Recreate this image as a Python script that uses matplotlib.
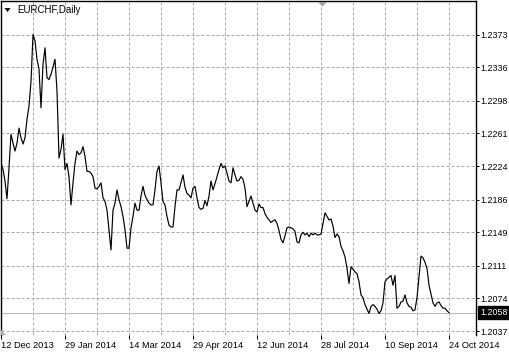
import matplotlib
matplotlib.use("Agg")
import matplotlib.pyplot as plt
from matplotlib.patches import Polygon

# --- chart data (daily closes, one per bar) ---
symbol_title = "EURCHF,Daily"
closes = [
    1.2227, 1.2220, 1.2207, 1.2187, 1.2222, 1.2260, 1.2250, 1.2241, 1.2250, 1.2267,
    1.2256, 1.2249, 1.2256, 1.2277, 1.2292, 1.2320, 1.2373, 1.2366, 1.2345, 1.2334,
    1.2290, 1.2339, 1.2358, 1.2324, 1.2322, 1.2328, 1.2336, 1.2345, 1.2309, 1.2233,
    1.2243, 1.2260, 1.2220, 1.2227, 1.2212, 1.2180, 1.2205, 1.2227, 1.2241, 1.2237,
    1.2239, 1.2246, 1.2235, 1.2218, 1.2218, 1.2216, 1.2212, 1.2199, 1.2198, 1.2201,
    1.2205, 1.2188, 1.2184, 1.2174, 1.2152, 1.2129, 1.2174, 1.2182, 1.2197, 1.2186,
    1.2178, 1.2167, 1.2152, 1.2131, 1.2131, 1.2154, 1.2167, 1.2182, 1.2174, 1.2174,
    1.2190, 1.2201, 1.2191, 1.2186, 1.2182, 1.2180, 1.2180, 1.2197, 1.2218, 1.2224,
    1.2205, 1.2184, 1.2180, 1.2167, 1.2157, 1.2155, 1.2155, 1.2178, 1.2197, 1.2197,
    1.2205, 1.2214, 1.2200, 1.2193, 1.2191, 1.2188, 1.2199, 1.2201, 1.2188, 1.2177,
    1.2175, 1.2176, 1.2185, 1.2179, 1.2190, 1.2207, 1.2197, 1.2204, 1.2212, 1.2220,
    1.2227, 1.2222, 1.2224, 1.2216, 1.2207, 1.2205, 1.2222, 1.2214, 1.2207, 1.2208,
    1.2212, 1.2209, 1.2199, 1.2178, 1.2184, 1.2190, 1.2182, 1.2174, 1.2172, 1.2181,
    1.2177, 1.2177, 1.2170, 1.2166, 1.2163, 1.2160, 1.2162, 1.2163, 1.2159, 1.2151,
    1.2141, 1.2137, 1.2145, 1.2154, 1.2155, 1.2154, 1.2153, 1.2150, 1.2138, 1.2137,
    1.2146, 1.2149, 1.2146, 1.2148, 1.2144, 1.2148, 1.2146, 1.2148, 1.2146, 1.2146,
    1.2147, 1.2159, 1.2171, 1.2167, 1.2163, 1.2164, 1.2156, 1.2143, 1.2147, 1.2144,
    1.2133, 1.2128, 1.2121, 1.2108, 1.2091, 1.2110, 1.2107, 1.2104, 1.2102, 1.2093,
    1.2078, 1.2075, 1.2067, 1.2062, 1.2057, 1.2065, 1.2067, 1.2065, 1.2062, 1.2057,
    1.2060, 1.2069, 1.2093, 1.2096, 1.2098, 1.2100, 1.2089, 1.2100, 1.2063, 1.2065,
    1.2070, 1.2071, 1.2078, 1.2069, 1.2065, 1.2064, 1.2060, 1.2061, 1.2075, 1.2099,
    1.2122, 1.2120, 1.2115, 1.2108, 1.2089, 1.2079, 1.2069, 1.2065, 1.2069, 1.2070,
    1.2066, 1.2063, 1.2063, 1.2060, 1.2058,
]
date_labels = ["12 Dec 2013", "29 Jan 2014", "14 Mar 2014", "29 Apr 2014",
               "12 Jun 2014", "28 Jul 2014", "10 Sep 2014", "24 Oct 2014"]
date_bars = [0, 32, 64, 96, 128, 160, 192, 224]
price_ticks = [1.2037, 1.2074, 1.2111, 1.2149, 1.2186,
               1.2224, 1.2261, 1.2298, 1.2336, 1.2373]
last_price = 1.2058

plt.rcParams['font.family'] = ['Liberation Sans', 'DejaVu Sans']

W, H = 510, 352
fig = plt.figure(figsize=(W / 100, H / 100), dpi=100)
fig.patch.set_facecolor('white')
# chart area in pixels: x 1..476.5, y 1..335 (from top)
ax = fig.add_axes([1 / W, (H - 335) / H, 475.5 / W, 334 / H])

ax.set_xlim(0, 237.75)
ax.set_ylim(1.20326, 1.24110)

# dashed grid like the terminal
grid_kw = dict(color='#a8a8a8', lw=0.72, dashes=(3, 2), zorder=1)
for b in range(16, 238, 16):
    ax.axvline(b, **grid_kw)
for p in price_ticks:
    ax.axhline(p, **grid_kw)

# bid line
ax.axhline(last_price, color='#bcb4c8', lw=0.72, zorder=1.5)

ax.plot(range(len(closes)), closes, color='black', lw=0.85, zorder=3)

# axes / ticks
for side in ['top', 'left', 'right']:
    ax.spines[side].set_color('black')
    ax.spines[side].set_linewidth(1.0)
ax.spines['bottom'].set_visible(False)

ax.set_xticks(date_bars)
ax.set_xticklabels(date_labels, ha='left', fontsize=6.7)
ax.tick_params(axis='x', direction='out', length=3, width=0.72, pad=1.5,
               colors='black')
ax.yaxis.tick_right()
ax.set_yticks(price_ticks)
ax.set_yticklabels([f"{p:.4f}" for p in price_ticks], fontsize=6.4)
ax.tick_params(axis='y', direction='out', length=2, width=0.72, pad=1,
               colors='black')

# current price box
ax.text(1.0085, last_price, f"{last_price:.4f}", transform=ax.get_yaxis_transform(),
        ha='left', va='center', fontsize=6.4, color='white', zorder=5,
        bbox=dict(boxstyle='square,pad=0.25', facecolor='black', edgecolor='black'),
        clip_on=False)

# title with small arrow
fig.text(17 / W, (H - 10) / H, symbol_title, ha='left', va='center',
         fontsize=7.0, color='black')
fig.patches.append(Polygon([[4.5 / W, (H - 8) / H], [10.5 / W, (H - 8) / H],
                            [7.5 / W, (H - 12) / H]], closed=True,
                           transform=fig.transFigure, facecolor='black',
                           edgecolor='none'))
# shift markers
fig.patches.append(Polygon([[318 / W, (H - 2) / H], [327 / W, (H - 2) / H],
                            [322.5 / W, (H - 6.5) / H]], closed=True,
                           transform=fig.transFigure, facecolor='#a0a0a0',
                           edgecolor='none'))
fig.patches.append(Polygon([[1.5 / W, (H - 330) / H], [1.5 / W, (H - 335) / H],
                            [6.5 / W, (H - 335) / H]], closed=True,
                           transform=fig.transFigure, facecolor='#b0b0b0',
                           edgecolor='none'))

fig.savefig("out.png", dpi=100, facecolor='white')
